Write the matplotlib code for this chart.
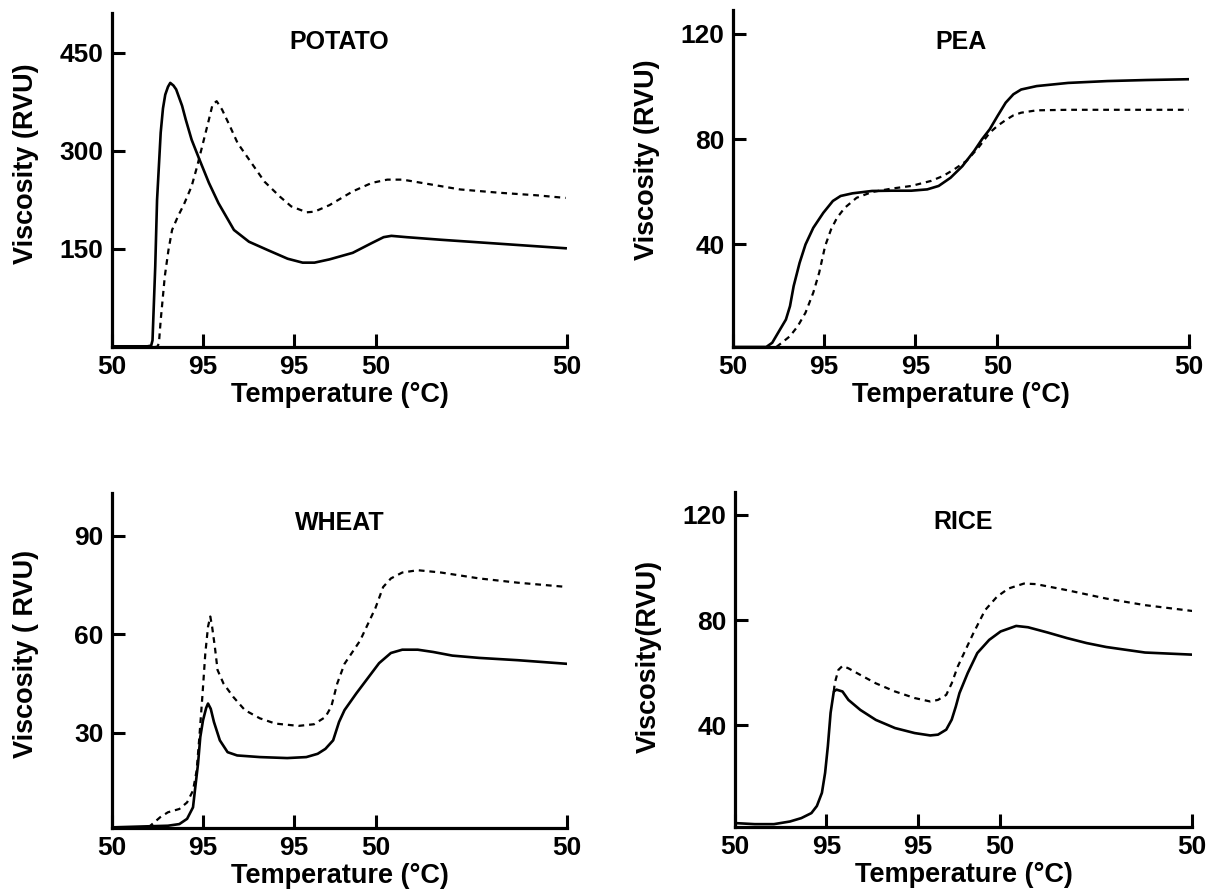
import matplotlib.pyplot as plt

plt.rcParams['font.family'] = ['Liberation Sans', 'DejaVu Sans']
plt.rcParams['font.weight'] = 'bold'

# x = position along the RVA run (% of total time); ticks mark the temperature profile
tick_pos = [0, 20, 40, 58, 100]
tick_labels = ['50', '95', '95', '50', '50']

# POTATO
potato_solid_x = [0, 7.8, 8.6, 8.9, 9.5, 9.9, 10.7, 11.2, 11.7, 12.3, 12.8, 13.5, 14.1, 15.4, 16.2,
                  17.5, 19.2, 21.3, 23.4, 26.8, 30.1, 34.3, 38.6, 41.9, 44.5, 47.8, 52.9,
                  57.1, 59.7, 61.4, 64.7, 72.3, 85.0, 93.4, 99.7]
potato_solid_y = [1, 1, 2, 10, 123, 225, 328, 365, 386, 398, 404, 400, 394, 369, 348,
                  317, 287, 251, 220, 179, 161, 148, 135, 129, 129, 134, 144,
                  159, 168, 170, 168, 164, 158, 154, 151]
potato_dash_x = [0, 9.9, 10.3, 10.7, 11.6, 12.4, 13.2, 14.5, 15.8, 17.5, 18.7, 20.0, 21.3,
                 22.1, 23.0, 24.2, 25.9, 27.6, 30.1, 33.5, 36.9, 39.4, 42.8, 44.5, 47.8,
                 52.9, 57.1, 60.5, 63.9, 68.1, 76.5, 85.0, 93.4, 99.7]
potato_dash_y = [0, 0, 5, 41, 108, 148, 179, 200, 218, 246, 276, 312, 348,
                 371, 376, 363, 338, 312, 287, 253, 230, 215, 206, 207, 217,
                 238, 251, 256, 256, 251, 241, 236, 232, 228]

# PEA
pea_solid_x = [0, 7.3, 8.6, 10.3, 11.6, 12.5, 13.3, 14.6, 15.9, 17.6, 19.8, 21.9, 23.6, 26.2,
               30.5, 34.8, 39.1, 42.6, 45.1, 47.7, 50.3, 52.9, 54.6, 56.3, 58.0, 59.8,
               61.5, 63.2, 66.6, 73.5, 82.1, 90.7, 100]
pea_solid_y = [1.1, 1.1, 2.7, 7.7, 11.5, 16.6, 24.2, 33.0, 40.0, 46.3, 52.0, 56.5, 58.4, 59.4,
               60.3, 60.4, 60.4, 60.9, 62.2, 65.3, 69.7, 75.5, 79.9, 83.7, 88.7, 93.8,
               97.0, 98.8, 100.1, 101.3, 102.0, 102.4, 102.7]
pea_dash_x = [9.5, 10.7, 12.5, 14.2, 15.9, 17.6, 18.9, 20.2, 21.5, 22.8, 24.5, 27.1, 30.5,
              34.8, 39.1, 43.4, 46.1, 48.6, 51.2, 53.8, 56.3, 58.0, 59.8, 61.5, 63.2,
              66.6, 73.5, 100]
pea_dash_y = [1.1, 2.7, 5.2, 9.0, 14.1, 21.7, 29.3, 39.4, 45.7, 50.1, 53.9, 57.7, 59.9,
              61.2, 62.2, 64.1, 66.0, 68.6, 71.7, 76.7, 82.4, 85.0, 87.2, 89.0, 90.0,
              90.9, 91.1, 91.1]

# WHEAT
wheat_solid_x = [0, 12.3, 14.8, 16.5, 17.8, 18.3, 18.9, 19.4, 20.0, 20.7, 21.1, 21.7, 22.4,
                 23.7, 25.4, 27.5, 32.5, 38.5, 42.7, 45.2, 46.9, 48.6, 49.9, 51.1, 53.7,
                 56.2, 58.7, 61.3, 63.8, 67.2, 70.6, 74.8, 80.7, 89.2, 100]
wheat_solid_y = [1.2, 1.7, 2.2, 3.8, 7.3, 13.4, 20.5, 28.7, 33.8, 37.6, 38.9, 37.3, 33.3,
                 27.7, 24.1, 23.1, 22.6, 22.3, 22.6, 23.6, 25.1, 27.7, 33.3, 36.9, 42.0,
                 46.6, 51.2, 54.3, 55.3, 55.3, 54.6, 53.5, 52.8, 52.1, 51.0]
wheat_dash_x = [8.0, 10.6, 12.3, 14.8, 16.5, 17.8, 18.6, 19.2, 19.9, 20.5, 21.1, 21.6, 22.0,
                22.6, 23.2, 24.5, 26.6, 29.2, 32.5, 35.9, 41.0, 44.4, 46.9, 48.2, 49.5,
                51.1, 54.5, 57.9, 59.6, 61.3, 63.8, 67.2, 72.3, 80.7, 89.2, 100]
wheat_dash_y = [1.2, 4.3, 5.8, 6.8, 8.8, 12.4, 18.5, 28.7, 41.9, 54.1, 62.3, 65.4, 62.3,
                56.2, 49.1, 45.0, 41.0, 36.9, 34.4, 32.8, 32.1, 32.6, 34.8, 38.0, 45.0,
                51.0, 58.0, 68.0, 74.4, 77.0, 78.8, 79.5, 78.8, 77.0, 75.7, 74.4]

# RICE
rice_solid_x = [0, 4.3, 8.5, 12.0, 14.5, 16.7, 17.9, 19.0, 19.7, 20.3, 20.9, 21.6, 22.2, 23.5,
                24.8, 27.4, 30.8, 35.0, 39.3, 42.7, 44.4, 46.2, 47.4, 48.3, 49.1, 50.9,
                53.0, 55.6, 58.1, 61.5, 64.1, 68.4, 72.6, 76.9, 81.2, 89.7, 100]
rice_solid_y = [2.9, 2.5, 2.5, 3.5, 4.8, 6.7, 9.4, 14.4, 22.0, 32.1, 44.8, 52.9, 53.6, 52.9,
                49.7, 45.9, 42.1, 39.0, 37.1, 36.2, 36.5, 38.4, 42.2, 47.2, 52.3, 59.9,
                67.5, 72.5, 75.7, 77.8, 77.3, 75.3, 73.2, 71.3, 69.8, 67.7, 66.9]
rice_dash_x = [21.6, 21.8, 22.6, 23.5, 24.8, 27.4, 30.8, 35.0, 39.3, 42.7, 44.4, 46.2, 47.4,
               48.7, 50.4, 52.1, 54.7, 57.3, 59.8, 63.2, 65.8, 72.6, 81.2, 89.7, 100]
rice_dash_y = [52.9, 56.0, 61.1, 62.6, 61.7, 59.2, 56.0, 52.9, 50.4, 49.1, 49.7, 51.6, 56.0,
               62.3, 68.6, 74.9, 83.8, 88.9, 92.0, 93.9, 93.7, 91.4, 88.2, 85.7, 83.5]

panels = [
    # name, rect, ylim, yticks, ylabel, label y, title y, solid, dashed
    ('POTATO', [0.0925, 0.6119, 0.3757, 0.3736], (0, 511), [150, 300, 450], 'Viscosity (RVU)', 0.548, 0.913,
     (potato_solid_x, potato_solid_y), (potato_dash_x, potato_dash_y)),
    ('PEA', [0.6053, 0.6119, 0.3765, 0.3770], (1.1, 129), [40, 80, 120], 'Viscosity (RVU)', 0.555, 0.905,
     (pea_solid_x, pea_solid_y), (pea_dash_x, pea_dash_y)),
    ('WHEAT', [0.0925, 0.0738, 0.3757, 0.3747], (1.0, 103), [30, 60, 90], 'Viscosity ( RVU)', 0.52, 0.91,
     (wheat_solid_x, wheat_solid_y), (wheat_dash_x, wheat_dash_y)),
    ('RICE', [0.6070, 0.0749, 0.3774, 0.3748], (1.4, 128.7), [40, 80, 120], 'Viscosity(RVU)', 0.51, 0.91,
     (rice_solid_x, rice_solid_y), (rice_dash_x, rice_dash_y)),
]

fig = plt.figure(figsize=(12.11, 8.94), dpi=100)

for name, rect, ylim, yticks, ylabel, label_y, title_y, solid, dashed in panels:
    ax = fig.add_axes(rect)
    ax.plot(dashed[0], dashed[1], color='black', linewidth=1.6, linestyle=(0, (2.6, 2.2)))
    ax.plot(solid[0], solid[1], color='black', linewidth=1.9)

    ax.set_xlim(0, 100)
    ax.set_ylim(*ylim)
    ax.set_xticks(tick_pos)
    ax.set_xticklabels(tick_labels)
    ax.set_yticks(yticks)

    for side in ['top', 'right']:
        ax.spines[side].set_visible(False)
    for side in ['left', 'bottom']:
        ax.spines[side].set_linewidth(2.3)
    ax.tick_params(direction='in', length=9.5, width=2.2, labelsize=19, pad=6)

    ax.text(0.5, title_y, name, transform=ax.transAxes, ha='center', va='center',
            fontsize=18, fontweight='bold')
    ax.set_xlabel('Temperature (°C)', fontsize=19.5, fontweight='bold', labelpad=2)
    ax.set_ylabel(ylabel, fontsize=19.5, fontweight='bold')
    ax.yaxis.set_label_coords(-0.16, label_y)

fig.savefig('out.png', dpi=100)
